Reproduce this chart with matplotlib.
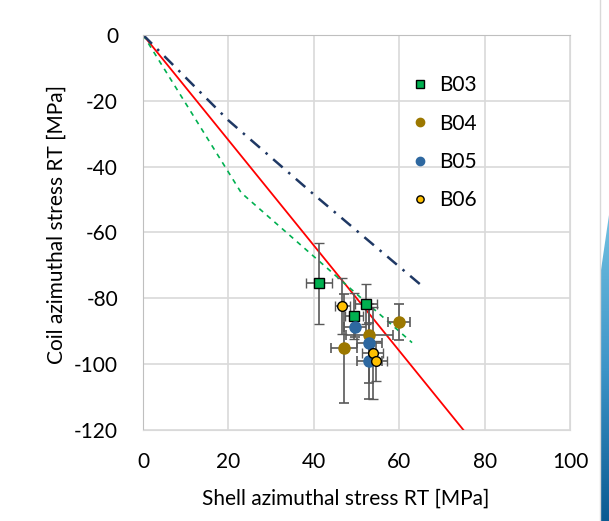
import numpy as np
import matplotlib.pyplot as plt
from matplotlib.patches import Polygon

# measurement points (shell stress, coil stress) with error bars
b03_x = [41.2, 49.4, 52.3]
b03_y = [-75.5, -85.3, -81.7]
b03_xerr = [3.0, 2.0, 2.6]
b03_yerr = [12.2, 7.0, 6.0]

b04_x = [59.9, 47.1, 53.0]
b04_y = [-87.3, -95.2, -91.2]
b04_xerr = [2.6, 3.0, 5.5]
b04_yerr = [5.5, 16.5, 8.0]

b05_x = [49.6, 53.0, 53.0]
b05_y = [-88.7, -93.7, -99.1]
b05_xerr = [2.5, 3.0, 3.0]
b05_yerr = [3.0, 12.0, 11.5]

b06_x = [46.7, 53.8, 54.6]
b06_y = [-82.3, -96.6, -99.1]
b06_xerr = [1.8, 2.5, 2.5]
b06_yerr = [8.5, 14.0, 6.0]

# model lines
red_x = [0, 80]
red_y = [0, -128]
green_x = [0, 23, 63]
green_y = [0, -48, -93.5]
navy_x = [0, 10, 20, 40, 66]
navy_y = [0, -13, -26, -48.5, -77]

plt.rcParams['font.family'] = ['Lato', 'DejaVu Sans']
plt.rcParams['axes.unicode_minus'] = False

fig = plt.figure(figsize=(6.09, 5.21), dpi=100)
ax = fig.add_axes([0.235, 0.175, 0.701, 0.758])

ax.plot(red_x, red_y, color='red', lw=1.3, zorder=2)
ax.plot(green_x, green_y, color='#00B050', lw=1.2, ls=(0, (3, 3)), zorder=2)
ax.plot(navy_x, navy_y, color='#1F3864', lw=1.8, ls=(0, (5, 3, 1, 3)), zorder=2)

err_kw = dict(ecolor='#595959', elinewidth=1.2, capsize=3.5, capthick=1.2, ls='none', zorder=3)
ax.errorbar(b03_x, b03_y, xerr=b03_xerr, yerr=b03_yerr, marker='s', ms=7,
            mfc='#00B050', mec='black', mew=1, label='B03', **err_kw)
ax.errorbar(b04_x, b04_y, xerr=b04_xerr, yerr=b04_yerr, marker='o', ms=8,
            mfc='#9C7800', mec='#9C7800', label='B04', **err_kw)
ax.errorbar(b05_x, b05_y, xerr=b05_xerr, yerr=b05_yerr, marker='o', ms=8,
            mfc='#2E68A0', mec='#2E68A0', label='B05', **err_kw)
ax.errorbar(b06_x, b06_y, xerr=b06_xerr, yerr=b06_yerr, marker='o', ms=7,
            mfc='#FFC000', mec='black', mew=1, label='B06', **err_kw)

ax.set_xlim(0, 100)
ax.set_ylim(-120, 0)
ax.set_xticks(np.arange(0, 101, 20))
ax.set_yticks(np.arange(-120, 1, 20))
ax.grid(True, color='#D9D9D9', lw=1.2)
ax.set_axisbelow(True)
for s in ['right', 'bottom']:
    ax.spines[s].set_color('#D9D9D9')
for s in ['left', 'top']:
    ax.spines[s].set_color('#BFBFBF')
ax.tick_params(axis='x', length=0, labelsize=15, pad=16)
ax.tick_params(axis='y', length=0, labelsize=15, pad=18)
ax.set_xlabel('Shell azimuthal stress RT [MPa]', fontsize=15)
ax.set_ylabel('Coil azimuthal stress RT [MPa]', fontsize=15)
ax.xaxis.set_label_coords(0.475, -0.148)
ax.yaxis.set_label_coords(-0.178, 0.52)

handles, labels = ax.get_legend_handles_labels()
leg = ax.legend([h[0] for h in handles], labels, loc='upper left', bbox_to_anchor=(0.59, 0.945),
                frameon=False, fontsize=15, handlelength=0.6, labelspacing=0.88, handletextpad=0.6,
                markerscale=0.75)

# slide decoration at the right edge
fig.add_artist(plt.Line2D([600 / 609, 600 / 609], [0, 1], color='#D9D9D9', lw=1,
                          transform=fig.transFigure))
grad_ax = fig.add_axes([601 / 609, 0, 8 / 609, 306 / 521])
grad_ax.axis('off')
grad = np.linspace(0, 1, 256).reshape(-1, 1)
img = grad_ax.imshow(grad, cmap=plt.matplotlib.colors.LinearSegmentedColormap.from_list(
    'sl', ['#0B5A92', '#3D95C8', '#72C0E0']), aspect='auto', extent=[0, 1, 0, 1], origin='lower')
tri = Polygon([[0, 0], [1, 0], [1, 1], [0, 0.82]], transform=grad_ax.transData)
img.set_clip_path(tri)
grad_ax.set_xlim(0, 1)
grad_ax.set_ylim(0, 1)

fig.savefig('out.png', dpi=100)
